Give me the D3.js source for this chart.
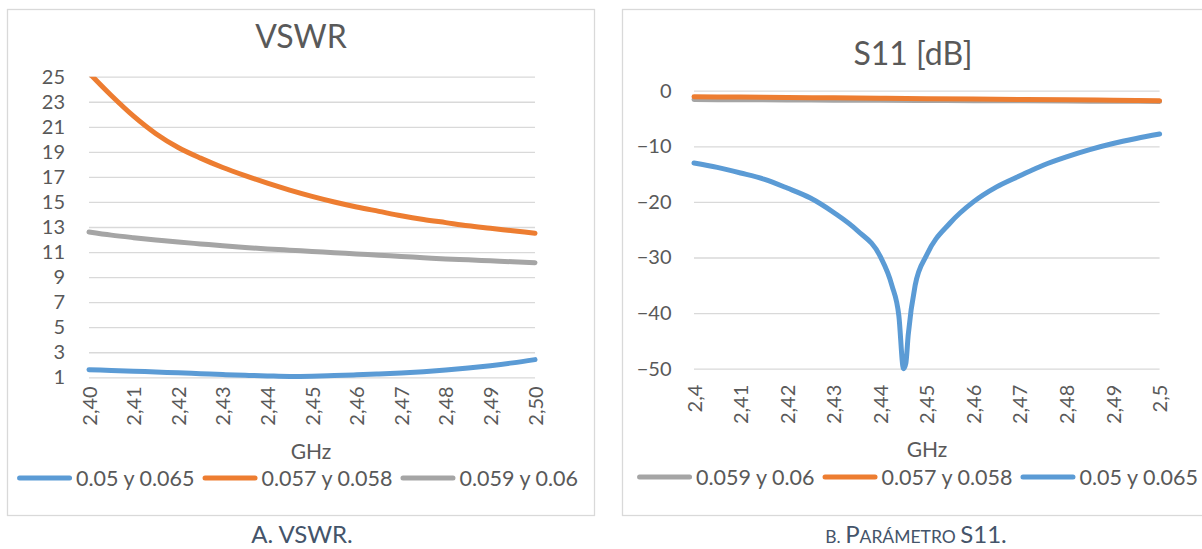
<!DOCTYPE html>
<html>
<head>
<meta charset="utf-8">
<script src="https://cdn.jsdelivr.net/npm/d3@7"></script>
<style>
  body { margin: 0; background: #fff; }
  svg { display: block; font-family: Lato, 'Open Sans', sans-serif; }
</style>
</head>
<body>
<script>
  'use strict'
  // ---- data ----
  const freqA = [2.400, 2.405, 2.410, 2.415, 2.420, 2.425, 2.430, 2.435, 2.440, 2.445, 2.450,
    2.455, 2.460, 2.465, 2.470, 2.475, 2.480, 2.485, 2.490, 2.495, 2.500]
  const vswrBlue = [1.61, 1.55, 1.49, 1.42, 1.36, 1.29, 1.22, 1.16, 1.11, 1.07, 1.09,
    1.14, 1.20, 1.27, 1.35, 1.45, 1.58, 1.74, 1.93, 2.15, 2.41]
  const vswrOrange = [25.3, 23.5, 21.85, 20.45, 19.35, 18.5, 17.75, 17.1, 16.5, 15.95, 15.45,
    15.0, 14.6, 14.25, 13.9, 13.6, 13.35, 13.1, 12.9, 12.7, 12.5]
  const vswrGray = [12.6, 12.35, 12.15, 11.97, 11.8, 11.65, 11.5, 11.37, 11.25, 11.15, 11.05,
    10.95, 10.85, 10.75, 10.65, 10.55, 10.45, 10.38, 10.3, 10.22, 10.15]
  const ticksA = [2.40, 2.41, 2.42, 2.43, 2.44, 2.45, 2.46, 2.47, 2.48, 2.49, 2.50]
  const tickLabelsA = ['2,40', '2,41', '2,42', '2,43', '2,44', '2,45', '2,46', '2,47', '2,48', '2,49', '2,50']
  const yTicksA = [1, 3, 5, 7, 9, 11, 13, 15, 17, 19, 21, 23, 25]

  const freqB = [2.400, 2.405, 2.410, 2.415, 2.420, 2.425, 2.430, 2.435, 2.440, 2.4425, 2.444,
    2.445, 2.4455, 2.446, 2.4475, 2.450, 2.455, 2.460, 2.465, 2.470, 2.475, 2.480, 2.485,
    2.490, 2.495, 2.500]
  const s11Blue = [-13.0, -13.8, -14.8, -15.9, -17.5, -19.3, -21.9, -25.1, -29.8, -35.0, -40.5,
    -50.0, -49.0, -44.0, -35.0, -29.5, -23.8, -20.0, -17.3, -15.3, -13.4, -11.9, -10.6,
    -9.5, -8.6, -7.8]
  const freqB2 = [2.40, 2.41, 2.42, 2.43, 2.44, 2.45, 2.46, 2.47, 2.48, 2.49, 2.50]
  const s11Orange = [-1.08, -1.15, -1.22, -1.29, -1.36, -1.43, -1.5, -1.57, -1.64, -1.72, -1.8]
  const s11Gray = [-1.6, -1.63, -1.66, -1.7, -1.73, -1.76, -1.8, -1.83, -1.86, -1.9, -1.93]
  const ticksB = [2.40, 2.41, 2.42, 2.43, 2.44, 2.45, 2.46, 2.47, 2.48, 2.49, 2.50]
  const tickLabelsB = ['2,4', '2,41', '2,42', '2,43', '2,44', '2,45', '2,46', '2,47', '2,48', '2,49', '2,5']
  const yTicksB = [0, -10, -20, -30, -40, -50]

  const blue = '#5B9BD5', orange = '#ED7D31', gray = '#A5A5A5'
  const textColor = '#595959'

  const svg = d3.select('body').append('svg')
    .attr('width', 1202)
    .attr('height', 549)

  function drawChart(cfg) {
    const g = svg.append('g')
    // frame
    g.append('rect')
      .attr('x', cfg.frame[0] + 0.5).attr('y', cfg.frame[1] + 0.5)
      .attr('width', cfg.frame[2]).attr('height', cfg.frame[3])
      .attr('fill', 'none').attr('stroke', '#D9D9D9').attr('stroke-width', 1.3)

    const x = d3.scaleLinear().domain(cfg.xDomain).range(cfg.xRange)
    const y = d3.scaleLinear().domain(cfg.yDomain).range(cfg.yRange)
    const bottom = d3.max(cfg.yRange), top = d3.min(cfg.yRange)

    const clipId = 'clip-' + cfg.id
    g.append('clipPath').attr('id', clipId)
      .append('rect')
      .attr('x', cfg.xRange[0] - 6).attr('y', top)
      .attr('width', cfg.xRange[1] - cfg.xRange[0] + 12)
      .attr('height', bottom - top + 6)

    // title
    g.append('text')
      .attr('x', cfg.titleX).attr('y', cfg.titleY)
      .attr('text-anchor', 'middle')
      .attr('font-size', 32).attr('fill', textColor)
      .text(cfg.title)

    // gridlines + y labels
    const yAxis = g.append('g')
      .attr('transform', `translate(${cfg.xRange[0]},0)`)
      .call(d3.axisLeft(y).tickValues(cfg.yTicks).tickSize(-(cfg.xRange[1] - cfg.xRange[0])).tickPadding(cfg.yPad))
    yAxis.select('.domain').remove()
    yAxis.selectAll('line').attr('stroke', '#D9D9D9').attr('stroke-width', 1.3)
    yAxis.selectAll('text').attr('font-size', 20).attr('fill', textColor)
      .attr('font-family', 'Lato, sans-serif')

    // x labels (rotated)
    const xAxis = g.append('g')
      .attr('transform', `translate(0,${bottom})`)
      .call(d3.axisBottom(x).tickValues(cfg.xTicks).tickSize(0)
        .tickFormat((d, i) => cfg.xTickLabels[i]))
    xAxis.select('.domain').remove()
    xAxis.selectAll('text')
      .attr('font-size', 20).attr('fill', textColor)
      .attr('font-family', 'Lato, sans-serif')
      .attr('transform', 'rotate(-90)')
      .attr('text-anchor', 'end')
      .attr('x', -cfg.xLabelGap).attr('y', 0).attr('dy', '0.35em')

    // axis title
    g.append('text')
      .attr('x', cfg.ghzX).attr('y', cfg.ghzY)
      .attr('text-anchor', 'middle')
      .attr('font-size', 21).attr('fill', textColor)
      .text('GHz')

    // series
    const line = d3.line().curve(d3.curveMonotoneX)
      .x(d => x(d[0])).y(d => y(d[1]))
    const plot = g.append('g').attr('clip-path', `url(#${clipId})`)
    cfg.series.forEach(s => {
      plot.append('path')
        .datum(d3.zip(s.x, s.y))
        .attr('fill', 'none')
        .attr('stroke', s.color)
        .attr('stroke-width', 5)
        .attr('stroke-linecap', 'round')
        .attr('stroke-linejoin', 'round')
        .attr('d', line)
    })

    // legend
    const leg = g.append('g')
    let cx = 0
    cfg.legend.forEach((s, i) => {
      const item = leg.append('g').attr('transform', `translate(${cx},0)`)
      item.append('line')
        .attr('x1', 2.5).attr('x2', 52.5).attr('y1', 0).attr('y2', 0)
        .attr('stroke', s.color).attr('stroke-width', 5).attr('stroke-linecap', 'round')
      const t = item.append('text')
        .attr('x', 59).attr('y', 0).attr('dy', '0.35em')
        .attr('font-size', 21.5).attr('fill', textColor)
        .text(s.name)
      cx += 59 + t.node().getComputedTextLength() + 8
    })
    cx -= 8
    leg.attr('transform', `translate(${cfg.legendCX - cx / 2},${cfg.legendY})`)
  }

  drawChart({
    id: 'a',
    frame: [7, 9, 587, 506],
    xDomain: [2.40, 2.50], xRange: [89, 535],
    yDomain: [1, 25], yRange: [377.3, 76.7],
    title: 'VSWR', titleX: 301, titleY: 48,
    yTicks: yTicksA, yPad: 24,
    xTicks: ticksA, xTickLabels: tickLabelsA, xLabelGap: 9,
    ghzX: 311, ghzY: 459,
    series: [
      {x: freqA, y: vswrBlue, color: blue},
      {x: freqA, y: vswrOrange, color: orange},
      {x: freqA, y: vswrGray, color: gray}
    ],
    legend: [
      {name: '0.05 y 0.065', color: blue},
      {name: '0.057 y 0.058', color: orange},
      {name: '0.059 y 0.06', color: gray}
    ],
    legendCX: 297.5, legendY: 478
  })

  drawChart({
    id: 'b',
    frame: [622, 9, 600, 506],
    xDomain: [2.40, 2.50], xRange: [694, 1159.6],
    yDomain: [0, -50], yRange: [90.7, 368.7],
    title: 'S11 [dB]', titleX: 913, titleY: 65,
    yTicks: yTicksB, yPad: 22.5,
    xTicks: ticksB, xTickLabels: tickLabelsB, xLabelGap: 16,
    ghzX: 927, ghzY: 457,
    series: [
      {x: freqB2, y: s11Gray, color: gray},
      {x: freqB2, y: s11Orange, color: orange},
      {x: freqB, y: s11Blue, color: blue}
    ],
    legend: [
      {name: '0.059 y 0.06', color: gray},
      {name: '0.057 y 0.058', color: orange},
      {name: '0.05 y 0.065', color: blue}
    ],
    legendCX: 917.5, legendY: 477
  })

  // captions
  svg.append('text')
    .attr('x', 302).attr('y', 543)
    .attr('text-anchor', 'middle')
    .attr('font-size', 24).attr('fill', '#44546A')
    .text('A. VSWR.')
  const capB = svg.append('text')
    .attr('x', 916).attr('y', 543)
    .attr('text-anchor', 'middle')
    .attr('font-size', 24).attr('fill', '#44546A')
  capB.append('tspan').attr('font-size', 17.5).text('B. ')
  capB.append('tspan').text('P')
  capB.append('tspan').attr('font-size', 17.5).text('ARÁMETRO ')
  capB.append('tspan').text('S11.')
</script>
</body>
</html>
